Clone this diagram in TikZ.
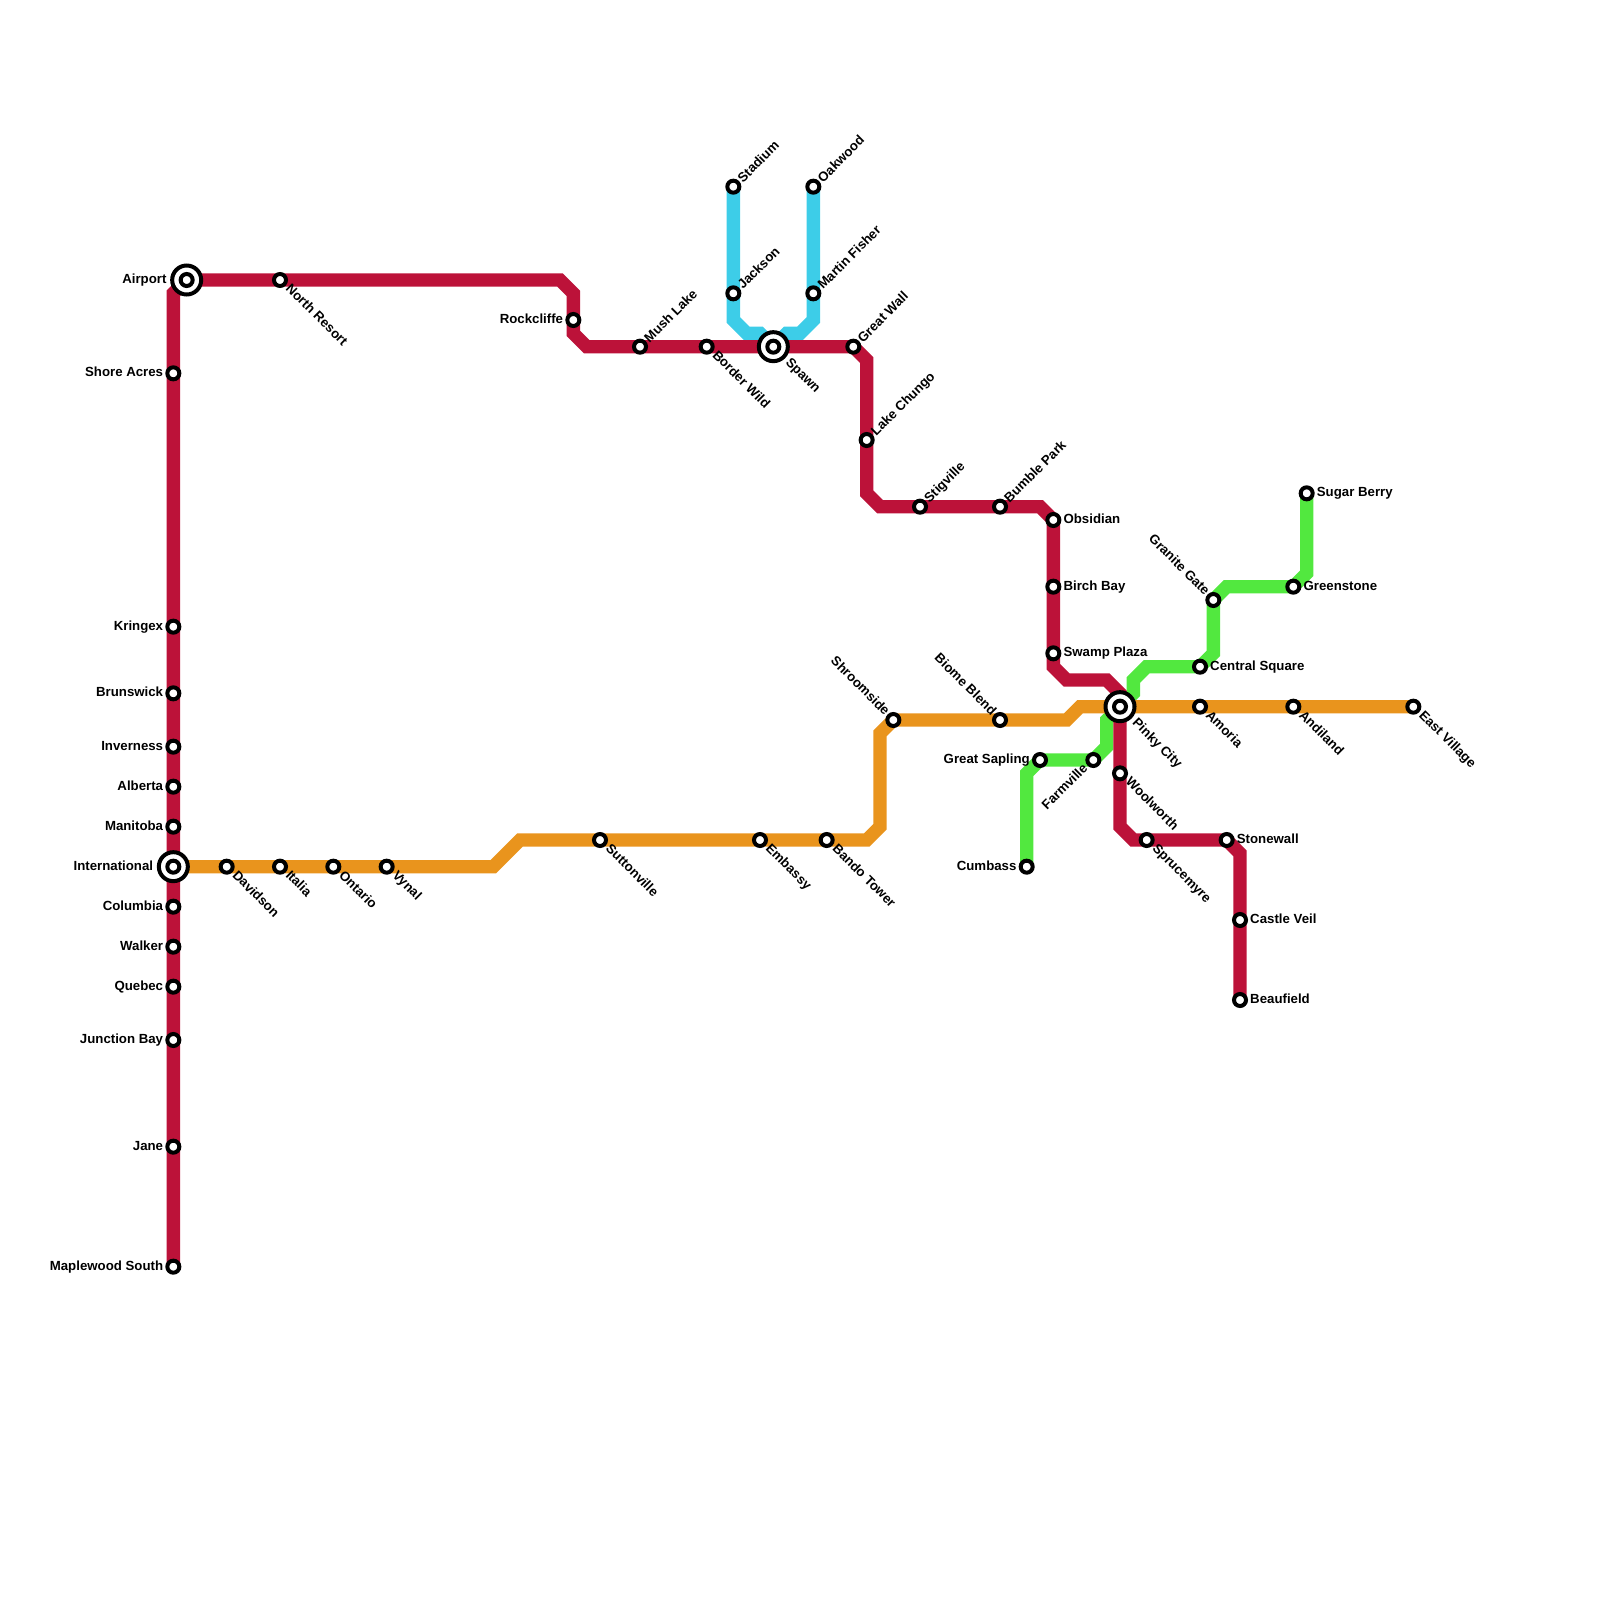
\documentclass[tikz,border=0pt]{standalone}
\usepackage{fontspec}
\setmainfont{Liberation Sans}
\pgfdeclarelayer{bg}
\pgfsetlayers{bg,main}
\definecolor{cred}{HTML}{BC1239}
\definecolor{corange}{HTML}{E9941D}
\definecolor{cgreen}{HTML}{52E83F}
\definecolor{cblue}{HTML}{3DCDE8}
\def\pxu{0.03cm}
\tikzset{
  metro/.style={line width=0.4cm,line join=miter},
  stn/.style={circle,draw=black,fill=white,line width=0.12cm,minimum size=0.36cm,inner sep=0pt},
  hub/.style={circle,draw=black,fill=white,line width=0.12cm,minimum size=0.87cm,inner sep=0pt},
  lab/.style={inner sep=0pt,font=\bfseries\fontsize{11.3}{13}\selectfont},
  labR/.style={lab,anchor=base west,xshift=10*\pxu,yshift=-3.5*\pxu},
  labL/.style={lab,anchor=base east,xshift=-10*\pxu,yshift=-3.5*\pxu},
  labLbig/.style={lab,anchor=base east,xshift=-20*\pxu,yshift=-3.5*\pxu},
  labSE/.style={lab,rotate=-45,anchor=base west,xshift=10*\pxu,yshift=-3*\pxu},
  labSEbig/.style={lab,rotate=-45,anchor=base west,xshift=20*\pxu,yshift=-3.5*\pxu},
  labNE/.style={lab,rotate=45,anchor=base west,xshift=9*\pxu,yshift=-4.5*\pxu},
  labNW/.style={lab,rotate=-45,anchor=base east,xshift=-9*\pxu,yshift=-3.5*\pxu},
  labSW/.style={lab,rotate=45,anchor=base east,xshift=-10*\pxu,yshift=-3*\pxu},
}
\newcommand{\stat}[5]{\node[stn] (#1) at (#2,#3) {}; \node[#4] (#1-l) at (#1.center) {#5};}
\newcommand{\hubst}[5]{\node[hub] (#1) at (#2,#3) {}; \node[stn] (#1-i) at (#1.center) {}; \node[#4] (#1-l) at (#1.center) {#5};}
\begin{document}
\begin{tikzpicture}[x=0.4cm,y=-0.4cm]
\useasboundingbox (0,0) rectangle (120,120);
% stations: red
\stat{maple}{13}{95}{labL}{Maplewood South}
\stat{jane}{13}{86}{labL}{Jane}
\stat{junction}{13}{78}{labL}{Junction Bay}
\stat{quebec}{13}{74}{labL}{Quebec}
\stat{walker}{13}{71}{labL}{Walker}
\stat{columbia}{13}{68}{labL}{Columbia}
\hubst{intl}{13}{65}{labLbig}{International}
\stat{manitoba}{13}{62}{labL}{Manitoba}
\stat{alberta}{13}{59}{labL}{Alberta}
\stat{inverness}{13}{56}{labL}{Inverness}
\stat{brunswick}{13}{52}{labL}{Brunswick}
\stat{kringex}{13}{47}{labL}{Kringex}
\stat{shore}{13}{28}{labL}{Shore Acres}
\hubst{airport}{14}{21}{labLbig}{Airport}
\stat{north}{21}{21}{labSE}{North Resort}
\stat{rock}{43}{24}{labL}{Rockcliffe}
\stat{mush}{48}{26}{labNE}{Mush Lake}
\stat{border}{53}{26}{labSE}{Border Wild}
\hubst{spawn}{58}{26}{labSEbig}{Spawn}
\stat{greatwall}{64}{26}{labNE}{Great Wall}
\stat{chungo}{65}{33}{labNE}{Lake Chungo}
\stat{stig}{69}{38}{labNE}{Stigville}
\stat{bumble}{75}{38}{labNE}{Bumble Park}
\stat{obsidian}{79}{39}{labR}{Obsidian}
\stat{birch}{79}{44}{labR}{Birch Bay}
\stat{swamp}{79}{49}{labR}{Swamp Plaza}
\hubst{pinky}{84}{53}{labSEbig}{Pinky City}
\stat{wool}{84}{58}{labSE}{Woolworth}
\stat{spruce}{86}{63}{labSE}{Sprucemyre}
\stat{stone}{92}{63}{labR}{Stonewall}
\stat{castle}{93}{69}{labR}{Castle Veil}
\stat{beau}{93}{75}{labR}{Beaufield}
% orange
\stat{david}{17}{65}{labSE}{Davidson}
\stat{italia}{21}{65}{labSE}{Italia}
\stat{ontario}{25}{65}{labSE}{Ontario}
\stat{vynal}{29}{65}{labSE}{Vynal}
\stat{sutton}{45}{63}{labSE}{Suttonville}
\stat{embassy}{57}{63}{labSE}{Embassy}
\stat{bando}{62}{63}{labSE}{Bando Tower}
\stat{shroom}{67}{54}{labNW}{Shroomside}
\stat{biome}{75}{54}{labNW}{Biome Blend}
\stat{amoria}{90}{53}{labSE}{Amoria}
\stat{andi}{97}{53}{labSE}{Andiland}
\stat{east}{106}{53}{labSE}{East Village}
% green
\stat{cumb}{77}{65}{labL}{Cumbass}
\stat{sapling}{78}{57}{labL}{Great Sapling}
\stat{farm}{82}{57}{labSW}{Farmville}
\stat{central}{90}{50}{labR}{Central Square}
\stat{granite}{91}{45}{labNW}{Granite Gate}
\stat{greenst}{97}{44}{labR}{Greenstone}
\stat{sugar}{98}{37}{labR}{Sugar Berry}
% blue
\stat{stadium}{55}{14}{labNE}{Stadium}
\stat{jackson}{55}{22}{labNE}{Jackson}
\stat{oak}{61}{14}{labNE}{Oakwood}
\stat{martin}{61}{22}{labNE}{Martin Fisher}
% bends
\foreach \n/\x/\y in {r1/13/22,r2/42/21,r3/43/22,r4/43/25,r5/44/26,r6/65/27,r7/65/37,r8/66/38,r9/78/38,r10/79/50,r11/80/51,r12/83/51,r13/84/52,r14/84/62,r15/85/63,r16/93/64,
 o1/37/65,o2/39/63,o3/65/63,o4/66/62,o5/66/55,o6/80/54,o7/81/53,
 g1/77/58,g2/83/56,g3/83/54,g4/85/52,g5/85/51,g6/86/50,g7/91/49,g8/92/44,g9/98/43,
 b1/55/24,b2/56/25,b3/57/25,b4/61/24,b5/60/25,b6/59/25}
  \coordinate (\n) at (\x,\y);
\begin{pgfonlayer}{bg}
\draw[metro,cblue] (stadium.center) -- (jackson.center) -- (b1) -- (b2) -- (b3) -- (spawn.center) -- (b6) -- (b5) -- (b4) -- (martin.center) -- (oak.center);
\draw[metro,cgreen] (cumb.center) -- (g1) -- (sapling.center) -- (farm.center) -- (g2) -- (g3) -- (pinky.center) -- (g4) -- (g5) -- (g6) -- (central.center) -- (g7) -- (granite.center) -- (g8) -- (greenst.center) -- (g9) -- (sugar.center);
\draw[metro,corange] (intl.center) -- (o1) -- (o2) -- (o3) -- (o4) -- (o5) -- (shroom.center) -- (biome.center) -- (o6) -- (o7) -- (pinky.center) -- (east.center);
\draw[metro,cred] (maple.center) -- (r1) -- (airport.center) -- (r2) -- (r3) -- (r4) -- (r5) -- (greatwall.center) -- (r6) -- (r7) -- (r8) -- (r9) -- (obsidian.center) -- (r10) -- (r11) -- (r12) -- (r13) -- (r14) -- (r15) -- (stone.center) -- (r16) -- (beau.center);
\end{pgfonlayer}
\end{tikzpicture}
\end{document}
